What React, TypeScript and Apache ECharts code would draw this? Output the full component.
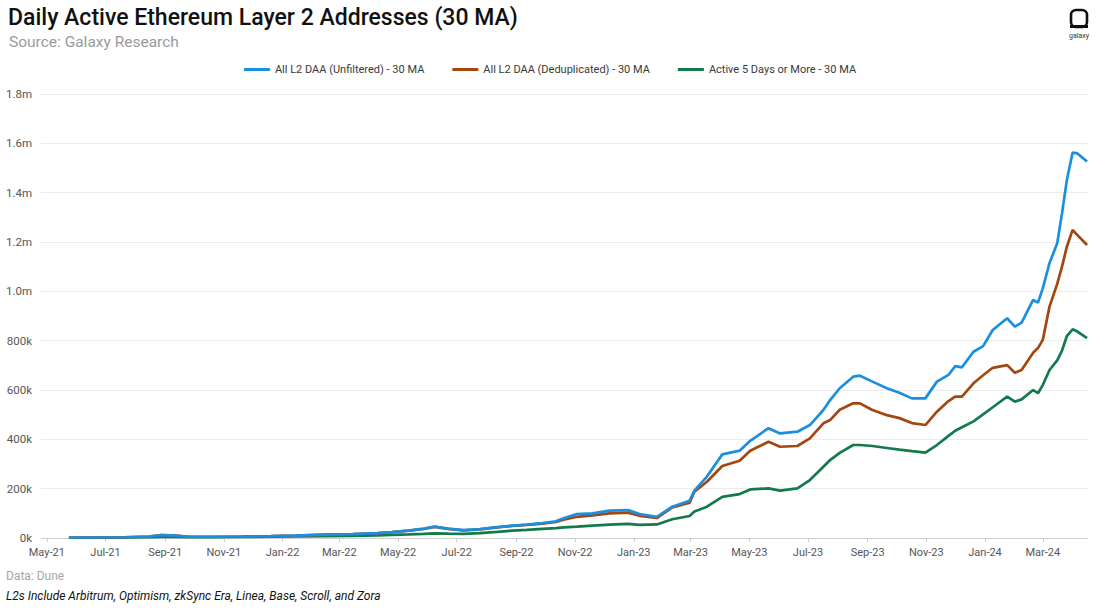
import React, { useEffect, useRef } from "react";
import * as echarts from "echarts";

// Dates of the sampled points (30-day moving averages)
const dates = [
  "2021-05-24", "2021-06-20", "2021-07-20", "2021-08-15", "2021-08-28", "2021-09-12", "2021-09-25",
  "2021-10-20", "2021-11-20", "2021-12-20", "2022-01-15", "2022-02-15", "2022-03-15", "2022-04-10",
  "2022-04-25", "2022-05-12", "2022-05-28", "2022-06-08", "2022-06-22", "2022-07-08", "2022-07-25",
  "2022-08-12", "2022-08-28", "2022-09-12", "2022-09-28", "2022-10-12", "2022-10-20", "2022-11-03",
  "2022-11-19", "2022-12-07", "2022-12-26", "2023-01-07", "2023-01-25", "2023-02-10", "2023-02-28",
  "2023-03-05", "2023-03-18", "2023-04-03", "2023-04-21", "2023-05-02", "2023-05-21", "2023-06-02",
  "2023-06-20", "2023-07-03", "2023-07-17", "2023-07-24", "2023-08-03", "2023-08-17", "2023-08-24",
  "2023-09-06", "2023-09-21", "2023-10-04", "2023-10-17", "2023-10-31", "2023-11-12", "2023-11-24",
  "2023-12-01", "2023-12-08", "2023-12-20", "2023-12-30", "2024-01-09", "2024-01-24", "2024-02-01",
  "2024-02-08", "2024-02-20", "2024-02-25", "2024-03-01", "2024-03-08", "2024-03-16", "2024-03-21",
  "2024-03-26", "2024-04-01", "2024-04-06", "2024-04-16",
];

// Values in thousands of addresses
const unfiltered = [
  1, 2, 3, 6, 12, 10, 5,
  5, 6, 8, 10, 14, 16, 20,
  24, 30, 38, 46, 38, 32, 36,
  44, 50, 54, 60, 68, 80, 97,
  100, 111, 113, 97, 86, 127, 151,
  192, 249, 339, 354, 394, 445, 424,
  431, 458, 519, 559, 607, 654, 658,
  634, 607, 589, 566, 566, 634, 661,
  697, 692, 755, 778, 843, 891, 857,
  873, 965, 954, 1012, 1114, 1195, 1316,
  1451, 1562, 1559, 1526,
];

const deduplicated = [
  1, 2, 3, 6, 12, 10, 5,
  5, 6, 8, 10, 14, 16, 20,
  24, 30, 37, 45, 37, 31, 35,
  43, 49, 53, 58, 65, 74, 86,
  92, 100, 103, 90, 81, 124, 143,
  188, 228, 292, 313, 354, 390, 370,
  373, 404, 465, 478, 520, 546, 546,
  519, 498, 486, 466, 458, 512, 555,
  573, 573, 627, 660, 690, 701, 670,
  681, 751, 770, 803, 938, 1030, 1100,
  1181, 1249, 1228, 1188,
];

const active5Days = [
  1, 1, 2, 3, 4, 4, 3,
  3, 4, 5, 6, 8, 9, 11,
  13, 15, 17, 19, 18, 17, 20,
  25, 30, 33, 37, 40, 43, 46,
  50, 54, 57, 53, 55, 76, 89,
  107, 127, 167, 178, 197, 201, 192,
  201, 235, 289, 316, 345, 377, 377,
  373, 365, 358, 352, 346, 377, 414,
  435, 449, 473, 501, 530, 573, 553,
  562, 600, 587, 620, 681, 720, 760,
  818, 846, 837, 810,
];

const tickDates = [
  "2021-05-01", "2021-07-01", "2021-09-01", "2021-11-01", "2022-01-01", "2022-03-01",
  "2022-05-01", "2022-07-01", "2022-09-01", "2022-11-01", "2023-01-01", "2023-03-01",
  "2023-05-01", "2023-07-01", "2023-09-01", "2023-11-01", "2024-01-01", "2024-03-01",
];

const seriesNames = [
  "All L2 DAA (Unfiltered) - 30 MA",
  "All L2 DAA (Deduplicated) - 30 MA",
  "Active 5 Days or More - 30 MA",
];
const seriesColors = ["#1a8fe0", "#a4470f", "#137a4c"];

const MONTHS = ["Jan", "Feb", "Mar", "Apr", "May", "Jun", "Jul", "Aug", "Sep", "Oct", "Nov", "Dec"];
const FONT = "Roboto, 'Noto Sans', sans-serif";

function toPairs(vals: number[]) {
  return dates.map((d, i) => [Date.parse(d), vals[i] * 1000]);
}

export default function App() {
  const ref = useRef<HTMLDivElement>(null);

  useEffect(() => {
    if (!ref.current) return;
    const chart = echarts.init(ref.current, null, { renderer: "svg" });
    const ticks = tickDates.map((d) => Date.parse(d));
    const allSeries = [unfiltered, deduplicated, active5Days];

    chart.setOption({
      animation: false,
      backgroundColor: "#ffffff",
      textStyle: { fontFamily: FONT },
      title: [
        {
          text: "Daily Active Ethereum Layer 2 Addresses (30 MA)",
          left: 3,
          top: 1,
          textStyle: { fontSize: 23, fontWeight: 500, color: "#111111", fontFamily: FONT },
        },
        {
          text: "Source: Galaxy Research",
          left: 4,
          top: 29,
          textStyle: { fontSize: 15.5, fontWeight: 400, color: "#9a9a9a", fontFamily: FONT },
        },
      ],
      legend: {
        top: 59,
        left: "center",
        icon: "rect",
        itemWidth: 26,
        itemHeight: 3,
        itemGap: 28,
        textStyle: { fontSize: 11, color: "#383838", fontFamily: FONT },
        data: seriesNames,
      },
      grid: { left: 41, right: 12, top: 94, bottom: 76, containLabel: false },
      xAxis: {
        type: "value",
        min: Date.UTC(2021, 3, 25),
        max: Date.UTC(2024, 3, 17),
        axisLine: { show: true, onZero: false, lineStyle: { color: "#d0d0d0", width: 1 } },
        axisTick: { show: true, customValues: ticks, length: 4, lineStyle: { color: "#d0d0d0" } },
        axisLabel: {
          customValues: ticks,
          color: "#555555",
          fontSize: 11,
          margin: 9,
          fontFamily: FONT,
          formatter: (v: number) => {
            const d = new Date(v);
            return MONTHS[d.getUTCMonth()] + "-" + String(d.getUTCFullYear()).slice(2);
          },
        },
        splitLine: { show: false },
      },
      yAxis: {
        type: "value",
        min: 0,
        max: 1800000,
        interval: 200000,
        axisLine: { show: false },
        axisTick: { show: false },
        axisLabel: {
          color: "#555555",
          fontSize: 11.5,
          margin: 9,
          fontFamily: FONT,
          formatter: (v: number) =>
            v >= 1000000 ? (v / 1000000).toFixed(1) + "m" : Math.round(v / 1000) + "k",
        },
        splitLine: { show: true, lineStyle: { color: "#ececec", width: 1 } },
      },
      series: allSeries.map((vals, i) => ({
        name: seriesNames[i],
        type: "line",
        data: toPairs(vals),
        showSymbol: false,
        symbol: "none",
        smooth: false,
        lineStyle: { width: 2.7, color: seriesColors[i] },
        itemStyle: { color: seriesColors[i] },
        z: 3 - i,
      })),
      graphic: [
        {
          type: "rect",
          shape: { x: 1071, y: 10, width: 16, height: 17, r: 5 },
          style: { fill: "none", stroke: "#111111", lineWidth: 2.6 },
        },
        {
          type: "rect",
          shape: { x: 1070, y: 25, width: 18, height: 3 },
          style: { fill: "#111111" },
        },
        {
          type: "text",
          x: 1079,
          y: 32,
          style: { text: "galaxy", fontSize: 7, fill: "#333333", align: "center", fontFamily: FONT },
        },
        {
          type: "text",
          left: 6,
          top: 570,
          style: { text: "Data: Dune", fontSize: 12, fill: "#a6a6a6", fontFamily: FONT },
        },
        {
          type: "text",
          left: 6,
          top: 590,
          style: {
            text: "L2s Include Arbitrum, Optimism, zkSync Era, Linea, Base, Scroll, and Zora",
            fontSize: 12,
            fontStyle: "italic",
            fill: "#111111",
            fontFamily: FONT,
          },
        },
      ],
    });

    return () => chart.dispose();
  }, []);

  return <div ref={ref} style={{ width: 1100, height: 614, position: "absolute", left: 0, top: 0 }} />;
}
